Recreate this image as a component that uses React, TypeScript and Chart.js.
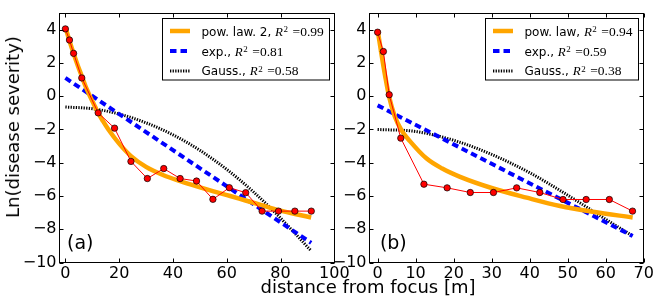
import React, { useEffect, useRef } from 'react';
import { Chart, registerables } from 'chart.js';

Chart.register(...registerables);

// ---------------- Panel (a) ----------------
const distA = [0, 1.52, 3.05, 6.1, 12.19, 18.29, 24.38, 30.48, 36.58, 42.67, 48.77, 54.86, 60.96, 67.06, 73.15, 79.25, 85.34, 91.44];
const severityA = [4.05, 3.38, 2.58, 1.1, -1.0, -1.92, -3.92, -4.95, -4.35, -4.95, -5.1, -6.2, -5.5, -5.8, -6.91, -6.91, -6.91, -6.91];
const powXA = [0, 1.5, 3, 4.5, 6, 7.5, 9, 10.5, 12, 14, 16, 20, 24.4, 30, 36.5, 42.7, 48.9, 55.1, 61.3, 67, 73, 79.2, 85.4, 91.4];
const powYA = [4.15, 3.35, 2.6, 1.9, 1.25, 0.6, 0.05, -0.45, -0.95, -1.5, -2.0, -2.85, -3.6, -4.25, -4.75, -5.1, -5.42, -5.72, -6.0, -6.27, -6.55, -6.85, -7.08, -7.29];
const expXA = [0, 91.4];
const expYA = [1.1, -8.82];
const gaussXA = [0, 10, 20, 30, 40, 50, 60, 70, 80, 91.4];
const gaussYA = [-0.65, -0.75, -1.07, -1.6, -2.32, -3.25, -4.4, -5.76, -7.33, -9.3];
const legendA = ['pow. law. 2', 'exp.', 'Gauss.'];
const r2A = ['0.99', '0.81', '0.58'];
const xTicksA = [0, 20, 40, 60, 80, 100];

// ---------------- Panel (b) ----------------
const distB = [0, 1.52, 3.05, 6.1, 12.19, 18.29, 24.38, 30.48, 36.58, 42.67, 48.77, 54.86, 60.96, 67.06];
const severityB = [3.85, 2.69, 0.09, -2.52, -5.29, -5.51, -5.79, -5.79, -5.51, -5.79, -6.21, -6.21, -6.21, -6.91];
const powXB = [0, 0.9, 2, 3, 4.5, 6.3, 8.5, 12.9, 17, 21.7, 30.4, 39.2, 48, 56.7, 67.1];
const powYB = [4.0, 2.7, 1.2, 0.0, -1.2, -2.05, -2.7, -3.75, -4.35, -4.85, -5.55, -6.1, -6.6, -6.95, -7.29];
const expXB = [0, 67.1];
const expYB = [-0.55, -8.41];
const gaussXB = [0, 10, 20, 30, 40, 50, 60, 67.1];
const gaussYB = [-2.0, -2.12, -2.65, -3.5, -4.6, -5.95, -7.4, -8.4];
const legendB = ['pow. law', 'exp.', 'Gauss.'];
const r2B = ['0.94', '0.59', '0.38'];
const xTicksB = [0, 10, 20, 30, 40, 50, 60, 70];

// ---------------- shared ----------------
const yTicks = [-10, -8, -6, -4, -2, 0, 2, 4];
const X_TITLE = 'distance from focus [m]';
const Y_TITLE = 'Ln(disease severity)';

const SANS = '"DejaVu Sans", sans-serif';
const SERIF = '"Liberation Serif", "DejaVu Serif", serif';

const STYLES = [
  { color: '#ffa500', width: 4.5, dash: [] as number[] },
  { color: '#0000ff', width: 4, dash: [6.5, 4] },
  { color: '#000000', width: 3, dash: [1.3, 1.3] },
];

const fmt = (v: number) => String(v).replace('-', '\u2212');

function decorPlugin(panelLabel: string, names: string[], r2s: string[]) {
  return {
    id: 'decor',
    afterDraw(chart: any) {
      const { ctx, chartArea: ca, scales } = chart;
      const xs = scales.x;
      const ys = scales.y;
      ctx.save();
      ctx.setLineDash([]);
      ctx.strokeStyle = '#000';
      ctx.lineWidth = 1;
      const lx = Math.floor(ca.left) - 0.5;
      const rx = Math.floor(ca.right) + 0.5;
      const ty = Math.floor(ca.top) + 0.5;
      const by = Math.floor(ca.bottom) + 0.5;
      // inward tick marks on all four sides
      ctx.beginPath();
      xs.ticks.forEach((t: any) => {
        const px = Math.round(xs.getPixelForValue(t.value)) + 0.5;
        ctx.moveTo(px, by);
        ctx.lineTo(px, by - 4);
        ctx.moveTo(px, ty);
        ctx.lineTo(px, ty + 4);
      });
      ys.ticks.forEach((t: any) => {
        const py = Math.round(ys.getPixelForValue(t.value)) + 0.5;
        ctx.moveTo(lx, py);
        ctx.lineTo(lx + 4, py);
        ctx.moveTo(rx, py);
        ctx.lineTo(rx - 4, py);
      });
      ctx.stroke();
      // frame
      ctx.strokeRect(lx, ty, rx - lx, by - ty);

      // panel label
      ctx.fillStyle = '#000';
      ctx.font = `19px ${SANS}`;
      ctx.textBaseline = 'alphabetic';
      ctx.textAlign = 'left';
      ctx.fillText(panelLabel, xs.getPixelForValue(0.6), ys.getPixelForValue(-9.2));

      // legend
      const sansFont = `12px ${SANS}`;
      const italicFont = `italic 13px ${SERIF}`;
      const supFont = `9px ${SERIF}`;
      const mathFont = `13.5px ${SERIF}`;
      const parts = names.map((n, i) => {
        ctx.font = sansFont;
        const w1 = ctx.measureText(n + ', ').width;
        ctx.font = italicFont;
        const w2 = ctx.measureText('R').width;
        ctx.font = supFont;
        const w3 = ctx.measureText('2').width;
        ctx.font = mathFont;
        const w4 = ctx.measureText('=' + r2s[i]).width;
        return { w1, w2, w3, w4, total: w1 + w2 + 0.5 + w3 + 4.5 + w4 };
      });
      const maxW = Math.max(...parts.map((p) => p.total));
      const boxW = 39 + maxW + 6;
      const right = Math.floor(ca.right) - 4.5;
      const left = Math.round(right - boxW) + 0.5;
      const top = Math.floor(ca.top) + 5.5;
      const boxH = 61.5;
      ctx.fillStyle = '#fff';
      ctx.fillRect(left, top, right - left, boxH);
      ctx.strokeStyle = '#000';
      ctx.lineWidth = 1;
      ctx.strokeRect(left, top, right - left, boxH);
      const rowY = [top + 12.5, top + 32.5, top + 52];
      names.forEach((n, i) => {
        const st = STYLES[i];
        ctx.save();
        ctx.strokeStyle = st.color;
        ctx.lineWidth = st.width;
        ctx.setLineDash(st.dash);
        ctx.beginPath();
        ctx.moveTo(Math.round(left + 7), Math.round(rowY[i]));
        ctx.lineTo(Math.round(left + 27), Math.round(rowY[i]));
        ctx.stroke();
        ctx.restore();
        const base = rowY[i] + 4.5;
        let x = left + 39;
        const p = parts[i];
        ctx.fillStyle = '#000';
        ctx.font = sansFont;
        ctx.fillText(n + ', ', x, base);
        x += p.w1;
        ctx.font = italicFont;
        ctx.fillText('R', x, base);
        x += p.w2 + 0.5;
        ctx.font = supFont;
        ctx.fillText('2', x, base - 3.5);
        x += p.w3 + 4.5;
        ctx.font = mathFont;
        ctx.fillText('=' + r2s[i], x, base);
      });
      ctx.restore();
    },
  };
}

type Panel = {
  label: string;
  dist: number[];
  sev: number[];
  powX: number[];
  powY: number[];
  expX: number[];
  expY: number[];
  gaussX: number[];
  gaussY: number[];
  legend: string[];
  r2: string[];
  xTicks: number[];
  xMin: number;
  xMax: number;
  padRight: number;
  yAxisWidth: number;
};

const toPts = (xs: number[], ys: number[]) => xs.map((x, i) => ({ x, y: ys[i] }));

function buildConfig(p: Panel): any {
  return {
    type: 'line',
    data: {
      datasets: [
        {
          label: 'data',
          data: toPts(p.dist, p.sev),
          borderColor: '#ff0000',
          borderWidth: 1,
          pointRadius: 3.2,
          pointBackgroundColor: '#ff0000',
          pointBorderColor: '#000000',
          pointBorderWidth: 0.7,
          tension: 0,
          order: 0,
        },
        {
          label: p.legend[0],
          data: toPts(p.powX, p.powY),
          borderColor: STYLES[0].color,
          borderWidth: STYLES[0].width,
          pointRadius: 0,
          cubicInterpolationMode: 'monotone',
          order: 1,
        },
        {
          label: p.legend[1],
          data: toPts(p.expX, p.expY),
          borderColor: STYLES[1].color,
          borderWidth: STYLES[1].width,
          borderDash: STYLES[1].dash,
          pointRadius: 0,
          order: 2,
        },
        {
          label: p.legend[2],
          data: toPts(p.gaussX, p.gaussY),
          borderColor: STYLES[2].color,
          borderWidth: STYLES[2].width,
          borderDash: STYLES[2].dash,
          pointRadius: 0,
          cubicInterpolationMode: 'monotone',
          order: 3,
        },
      ],
    },
    options: {
      animation: false,
      responsive: false,
      maintainAspectRatio: false,
      layout: { padding: { top: 12.5, right: p.padRight, left: 0, bottom: 0 } },
      plugins: { legend: { display: false }, tooltip: { enabled: false }, title: { display: false } },
      scales: {
        x: {
          type: 'linear',
          min: p.xMin,
          max: p.xMax,
          grid: { display: false, drawTicks: false },
          border: { display: false },
          ticks: {
            color: '#000',
            font: { family: 'DejaVu Sans', size: 16 },
            padding: 1.5,
            maxRotation: 0,
            autoSkip: false,
            callback: (v: number) => fmt(v),
          },
          afterBuildTicks: (s: any) => {
            s.ticks = p.xTicks.map((v) => ({ value: v }));
          },
          afterFit: (s: any) => {
            s.height = 39.5;
          },
        },
        y: {
          type: 'linear',
          min: -10,
          max: 5,
          grid: { display: false, drawTicks: false },
          border: { display: false },
          ticks: {
            color: '#000',
            font: { family: 'DejaVu Sans', size: 16 },
            padding: 3.5,
            autoSkip: false,
            callback: (v: number) => fmt(v),
          },
          afterBuildTicks: (s: any) => {
            s.ticks = yTicks.map((v) => ({ value: v }));
          },
          afterFit: (s: any) => {
            s.width = p.yAxisWidth;
          },
        },
      },
    },
    plugins: [decorPlugin(p.label, p.legend, p.r2)],
  };
}

const panelA: Panel = {
  label: '(a)',
  dist: distA, sev: severityA,
  powX: powXA, powY: powYA,
  expX: expXA, expY: expYA,
  gaussX: gaussXA, gaussY: gaussYA,
  legend: legendA, r2: r2A,
  xTicks: xTicksA, xMin: -2, xMax: 100,
  padRight: 17.7, yAxisWidth: 60,
};

const panelB: Panel = {
  label: '(b)',
  dist: distB, sev: severityB,
  powX: powXB, powY: powYB,
  expX: expXB, expY: expYB,
  gaussX: gaussXB, gaussY: gaussYB,
  legend: legendB, r2: r2B,
  xTicks: xTicksB, xMin: -2, xMax: 70,
  padRight: 20.3, yAxisWidth: 50,
};

export default function App() {
  const refA = useRef<HTMLCanvasElement>(null);
  const refB = useRef<HTMLCanvasElement>(null);

  useEffect(() => {
    const a = new Chart(refA.current as HTMLCanvasElement, buildConfig(panelA));
    const b = new Chart(refB.current as HTMLCanvasElement, buildConfig(panelB));
    return () => {
      a.destroy();
      b.destroy();
    };
  }, []);

  return (
    <div style={{ position: 'absolute', left: 0, top: 0, width: 664, height: 302, background: '#fff', overflow: 'hidden' }}>
      <canvas ref={refA} width={352} height={302} style={{ position: 'absolute', left: 0, top: 0, width: 352, height: 302 }} />
      <canvas ref={refB} width={344} height={302} style={{ position: 'absolute', left: 320, top: 0, width: 344, height: 302 }} />
      <div
        style={{
          position: 'absolute',
          left: 368,
          top: 277.8,
          transform: 'translateX(-50%)',
          fontFamily: SANS,
          fontSize: 18,
          lineHeight: '18px',
          whiteSpace: 'nowrap',
          color: '#000',
        }}
      >
        {X_TITLE}
      </div>
      <div
        style={{
          position: 'absolute',
          left: 13.2,
          top: 126.5,
          transform: 'translate(-50%, -50%) rotate(-90deg)',
          fontFamily: SANS,
          fontSize: 18,
          lineHeight: '18px',
          whiteSpace: 'nowrap',
          color: '#000',
        }}
      >
        {Y_TITLE}
      </div>
    </div>
  );
}
